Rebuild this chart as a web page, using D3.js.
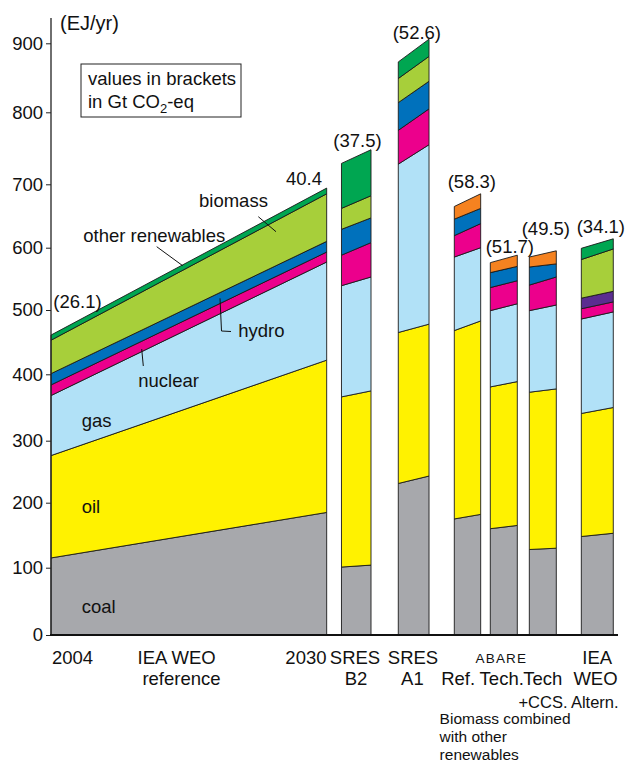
<!DOCTYPE html>
<html>
<head>
<meta charset="utf-8">
<script src="https://cdn.jsdelivr.net/npm/d3@7"></script>
<style>
  body { margin: 0; background: #fff; }
  text { font-family: "Liberation Sans", Arial, Helvetica, sans-serif; fill: #111; }
</style>
</head>
<body>
<svg id="chart" width="639" height="762"></svg>
<script>
// ---------------- DATA (EJ/yr) ----------------
// Each column is drawn as a slanted block: value at its left edge and at its right edge.
// Column 0 is the IEA WEO reference path: left = 2004, right = 2030.
const columns = ["IEA WEO reference", "SRES B2", "SRES A1", "ABARE Ref.", "ABARE Tech.", "ABARE Tech+CCS", "IEA WEO Altern."];

const coalLeft      = [115, 101, 231, 175, 160, 128, 148];
const coalRight     = [185, 104, 243, 182, 165, 130, 153];
const oilLeft       = [161, 265, 234, 293, 221, 245, 193];
const oilRight      = [237, 271, 235, 301, 224, 248, 197];
const gasLeft       = [ 92, 173, 263, 117, 118, 126, 145];
const gasRight      = [155, 178, 277, 117, 121, 130, 147];
const nuclearLeft   = [ 16,  49,  47,  34,  37,  41,  16];
const nuclearRight  = [ 16,  55,  50,  38,  37,  45,  16];
const hydroLeft     = [ 17,  41,  39,  26,  24,  29,   0];
const hydroRight    = [ 17,  39,  40,  24,  23,  21,   0];
const hydroAltLeft  = [  0,   0,   0,   0,   0,   0,  17];
const hydroAltRight = [  0,   0,   0,   0,   0,   0,  17];
const biomassLeft   = [ 52,  33,  35,   0,   0,   0,  62];
const biomassRight  = [ 75,  35,  36,   0,   0,   0,  68];
const otherLeft     = [  8,  67,  24,   0,   0,   0,  18];
const otherRight    = [  9,  66,  25,   0,   0,   0,  16];
const combinedLeft  = [  0,   0,   0,  20,  16,  16,   0];
const combinedRight = [  0,   0,   0,  23,  18,  21,   0];

const co2Labels = ["(26.1)", "40.4", "(37.5)", "(52.6)", "(58.3)", "(51.7)", "(49.5)", "(34.1)"];
const yTicks = [0, 100, 200, 300, 400, 500, 600, 700, 800, 900];

// ---------------- SERIES / STYLE ----------------
const series = [
  { key: "coal",     L: coalLeft,     R: coalRight,     color: "#a7a8ac" },
  { key: "oil",      L: oilLeft,      R: oilRight,      color: "#fff200" },
  { key: "gas",      L: gasLeft,      R: gasRight,      color: "#b1e1f7" },
  { key: "nuclear",  L: nuclearLeft,  R: nuclearRight,  color: "#ec008c" },
  { key: "hydro",    L: hydroLeft,    R: hydroRight,    color: "#0071bc" },
  { key: "hydroAlt", L: hydroAltLeft, R: hydroAltRight, color: "#5b2d90" },
  { key: "biomass",  L: biomassLeft,  R: biomassRight,  color: "#a7cf3a" },
  { key: "other",    L: otherLeft,    R: otherRight,    color: "#00a651" },
  { key: "combined", L: combinedLeft, R: combinedRight, color: "#f58220" }
];

// ---------------- LAYOUT ----------------
// horizontal extent of each column in layout units (0..100 across the plot)
const colSpan = [[0, 48.62], [51.23, 56.44], [61.25, 66.67], [71.13, 75.78], [77.48, 82.24], [84.36, 89.12], [93.53, 99.17]];
// the printed axis is slightly irregular; reproduce tick spacing with a polylinear scale
const yRangePx = [635, 567.7, 502.7, 440.7, 374.3, 310, 247.7, 184.3, 112.3, 43.3];

const x = d3.scaleLinear().domain([0, 100]).range([51, 618]);
const y = d3.scaleLinear().domain(yTicks).range(yRangePx);

const svg = d3.select("#chart");
const FS = 18.5;

// ---------------- MARKS ----------------
const line = d3.line();
const gBlocks = svg.append("g");
columns.forEach((c, i) => {
  let cl = 0, cr = 0;
  const x0 = x(colSpan[i][0]), x1 = x(colSpan[i][1]);
  series.forEach(s => {
    const l = s.L[i], r = s.R[i];
    if (l === 0 && r === 0) return;
    const pts = [[x0, y(cl)], [x1, y(cr)], [x1, y(cr + r)], [x0, y(cl + l)]];
    gBlocks.append("path")
      .attr("d", line(pts) + "Z")
      .attr("fill", s.color)
      .attr("stroke", "#1a1a1a")
      .attr("stroke-width", 0.9)
      .attr("stroke-linejoin", "miter");
    cl += l; cr += r;
  });
});

// ---------------- AXES ----------------
const yAxis = d3.axisLeft(y).tickValues(yTicks).tickSize(5).tickPadding(3).tickSizeOuter(0);
const gy = svg.append("g").attr("transform", `translate(${x(0)},0)`).call(yAxis);
gy.select(".domain").remove();
gy.selectAll(".tick line").attr("stroke", "#222").attr("stroke-width", 1);
gy.selectAll(".tick text").attr("font-size", FS).attr("font-family", "Liberation Sans, Arial, sans-serif").attr("fill", "#111");

svg.append("line").attr("x1", x(0)).attr("x2", x(0)).attr("y1", 18).attr("y2", y(0))
  .attr("stroke", "#222").attr("stroke-width", 1.3);
svg.append("line").attr("x1", x(0) - 1).attr("x2", x(100)).attr("y1", y(0)).attr("y2", y(0))
  .attr("stroke", "#111").attr("stroke-width", 1.8);

svg.append("text").attr("x", 60).attr("y", 30).attr("font-size", 20).text("(EJ/yr)");

// ---------------- LEGEND NOTE ----------------
svg.append("rect").attr("x", 81).attr("y", 64).attr("width", 160).attr("height", 53)
  .attr("fill", "#fff").attr("stroke", "#222").attr("stroke-width", 1);
svg.append("text").attr("x", 88).attr("y", 85).attr("font-size", FS).text("values in brackets");
const t2 = svg.append("text").attr("x", 88).attr("y", 107.5).attr("font-size", FS);
t2.append("tspan").text("in Gt CO");
t2.append("tspan").attr("font-size", 13).attr("dy", 5).text("2");
t2.append("tspan").attr("dy", -5).text("-eq");

// ---------------- CO2 VALUE LABELS ----------------
const co2Pos = [[53.3, 308], [286, 185], [333.3, 147], [392.7, 39], [447.7, 187.5], [485.7, 252.5], [521.7, 234.8], [576.7, 232.5]];
co2Labels.forEach((t, i) => {
  svg.append("text").attr("x", co2Pos[i][0]).attr("y", co2Pos[i][1]).attr("font-size", FS).text(t);
});

// ---------------- SERIES ANNOTATIONS ----------------
const ann = [
  ["biomass", 199, 206.5], ["other renewables", 83.3, 241.5], ["hydro", 238.3, 336.5],
  ["nuclear", 138.3, 386.5], ["gas", 81.7, 426.5], ["oil", 81.7, 513], ["coal", 81.7, 612.5]
];
ann.forEach(a => svg.append("text").attr("x", a[1]).attr("y", a[2]).attr("font-size", FS).text(a[0]));
const leaders = [
  [[258.3, 216.7], [276, 231.7]],
  [[156.7, 246.7], [182.7, 265.7]],
  [[220, 298.3], [221.5, 331], [231, 331.5]],
  [[141.7, 349], [143.3, 366]]
];
leaders.forEach(p => svg.append("path").attr("d", line(p)).attr("fill", "none")
  .attr("stroke", "#111").attr("stroke-width", 1));

// ---------------- CATEGORY LABELS ----------------
// [text, x, baseline, anchor, font size]
const catLabels = [
  ["2004", 52, 663.5, "start", FS], ["IEA WEO", 137.6, 663.5, "start", FS], ["reference", 142.4, 684.5, "start", FS],
  ["2030", 326.5, 663.5, "end", FS], ["SRES", 329.8, 663.5, "start", FS], ["B2", 367.3, 684.5, "end", FS],
  ["SRES", 387.8, 663.5, "start", FS], ["A1", 423.7, 684.5, "end", FS],
  ["Ref.", 441.2, 684.5, "start", FS], ["Tech.", 479.6, 684.5, "start", FS], ["Tech", 562.4, 684.5, "end", FS],
  ["+CCS.", 567.5, 707.5, "end", 16.5],
  ["IEA", 612.2, 663.5, "end", FS], ["WEO", 617.6, 684.5, "end", FS], ["Altern.", 618.6, 707.5, "end", 16.5]
];
catLabels.forEach(c => svg.append("text")
  .attr("x", c[1]).attr("y", c[2]).attr("font-size", c[4]).attr("text-anchor", c[3]).text(c[0]));
[["Biomass combined", 723.5], ["with other", 742], ["renewables", 760]].forEach(n =>
  svg.append("text").attr("x", 439.6).attr("y", n[1]).attr("font-size", 15.5).text(n[0]));
svg.append("text").attr("x", 475.5).attr("y", 662.5).attr("font-size", 13.5)
  .attr("letter-spacing", 1.2).text("ABARE");
</script>
</body>
</html>
